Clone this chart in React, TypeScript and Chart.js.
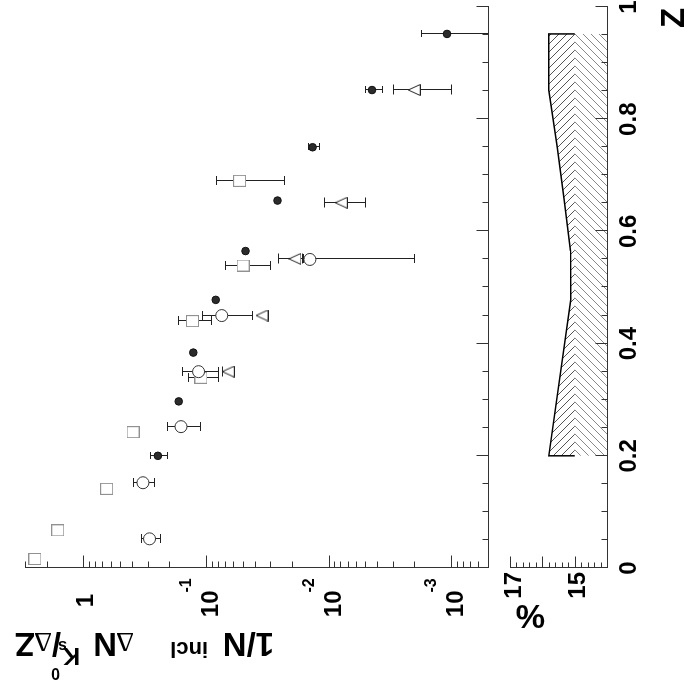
import React, { useEffect, useRef } from 'react';
import { Chart, registerables } from 'chart.js';

Chart.register(...registerables);

// ---------------- data ----------------
// filled circles
const dotZ = [0.2, 0.297, 0.384, 0.478, 0.565, 0.655, 0.75, 0.852, 0.952];
const dotVal = [0.247, 0.167, 0.127, 0.0833, 0.0476, 0.0261, 0.0135, 0.00442, 0.00108];
const dotLo = [0.207, 0.167, 0.127, 0.0833, 0.0476, 0.0261, 0.0119, 0.00369, 0.00038];
const dotHi = [0.289, 0.167, 0.127, 0.0833, 0.0476, 0.0261, 0.0146, 0.00509, 0.00177];
// open circles
const circZ = [0.052, 0.152, 0.252, 0.35, 0.45, 0.55];
const circVal = [0.289, 0.327, 0.16, 0.115, 0.0744, 0.0142];
const circLo = [0.239, 0.266, 0.113, 0.0793, 0.0421, 0.002];
const circHi = [0.337, 0.394, 0.209, 0.157, 0.107, 0.0161];
// open squares
const sqZ = [0.016, 0.067, 0.141, 0.242, 0.339, 0.44, 0.539, 0.69];
const sqVal = [2.49, 1.62, 0.647, 0.394, 0.11, 0.129, 0.0498, 0.0532];
const sqLo = [2.49, 1.62, 0.647, 0.394, 0.0793, 0.0904, 0.0299, 0.0229];
const sqHi = [2.49, 1.62, 0.647, 0.394, 0.141, 0.168, 0.07, 0.0823];
// open triangles
const triZ = [0.35, 0.45, 0.551, 0.651, 0.852];
const triVal = [0.0658, 0.0349, 0.0188, 0.00787, 0.002];
const triLo = [0.0603, 0.0349, 0.0164, 0.00509, 0.001];
const triHi = [0.0744, 0.0349, 0.0259, 0.0109, 0.003];
// systematic band (%)
const sysZ = [0.2, 0.478, 0.565, 0.655, 0.75, 0.852, 0.952];
const sysVal = [15.8, 15.12, 15.13, 15.32, 15.54, 15.8, 15.8];
const sysBase = 15;
const sysFloor = 14;

// axes and tick labels
const zMin = 0;
const zMax = 1;
const yMin = 5e-4;
const yMax = 3;
const ratioMin = 14;
const ratioMax = 17;
const zTickLabels = ['0', '0.2', '0.4', '0.6', '0.8', '1'];
const decadeValues = [1, 0.1, 0.01, 0.001];
const decadeBase = ['1', '10', '10', '10'];
const decadeExp = ['', '-1', '-2', '-3'];
const ratioLabels = [17, 15];

const FONT = '"Liberation Sans", Arial, Helvetica, sans-serif';
const AXIS = '#333';

const pts = (zs: number[], vs: number[]) => zs.map((z, i) => ({ x: z, y: vs[i] }));

function makeSquare(): HTMLCanvasElement {
  const c = document.createElement('canvas');
  c.width = 12; c.height = 13;
  const g = c.getContext('2d')!;
  g.fillStyle = '#fff';
  g.fillRect(0, 0, 12, 13);
  g.strokeStyle = '#222';
  g.lineWidth = 1;
  g.setLineDash([1, 1]);
  g.strokeRect(0.5, 0.5, 11, 12);
  return c;
}

function makeTriangle(): HTMLCanvasElement {
  const c = document.createElement('canvas');
  c.width = 12; c.height = 13;
  const g = c.getContext('2d')!;
  g.beginPath();
  g.moveTo(6, 0.5);
  g.lineTo(11.5, 12.5);
  g.lineTo(0.5, 12.5);
  g.closePath();
  g.fillStyle = '#fff';
  g.fill();
  g.strokeStyle = '#222';
  g.lineWidth = 1;
  g.stroke();
  return c;
}

function makeHatch(target: CanvasRenderingContext2D, dir: number, color: string): CanvasPattern {
  const s = 8;
  const c = document.createElement('canvas');
  c.width = s; c.height = s;
  const g = c.getContext('2d')!;
  g.strokeStyle = color;
  g.lineWidth = 1;
  g.beginPath();
  if (dir > 0) {
    g.moveTo(-1, -1); g.lineTo(s + 1, s + 1);
    g.moveTo(-1, s - 1); g.lineTo(1, s + 1);
    g.moveTo(s - 1, -1); g.lineTo(s + 1, 1);
  } else {
    g.moveTo(-1, s + 1); g.lineTo(s + 1, -1);
    g.moveTo(-1, 1); g.lineTo(1, -1);
    g.moveTo(s - 1, s + 1); g.lineTo(s + 1, s - 1);
  }
  g.stroke();
  return target.createPattern(c, 'repeat')!;
}

type ErrSeries = { z: number[]; lo: number[]; hi: number[]; cap: number };

function drawErrorBars(chart: any, series: ErrSeries[]) {
  const { ctx, chartArea: a } = chart;
  const xs = chart.scales.x;
  const ys = chart.scales.y;
  ctx.save();
  ctx.beginPath();
  ctx.rect(a.left, a.top, a.right - a.left, a.bottom - a.top);
  ctx.clip();
  ctx.strokeStyle = '#222';
  ctx.lineWidth = 1;
  for (const s of series) {
    s.z.forEach((z, i) => {
      const lo = s.lo[i];
      const hi = s.hi[i];
      if (!(hi > lo)) return;
      const px = Math.round(xs.getPixelForValue(z)) + 0.5;
      const p1 = Math.round(ys.getPixelForValue(hi)) + 0.5;
      const p2 = Math.round(ys.getPixelForValue(lo)) + 0.5;
      ctx.beginPath();
      ctx.moveTo(px, p1); ctx.lineTo(px, p2);
      ctx.moveTo(px - s.cap, p1); ctx.lineTo(px + s.cap, p1);
      ctx.moveTo(px - s.cap, p2); ctx.lineTo(px + s.cap, p2);
      ctx.stroke();
    });
  }
  ctx.restore();
}

function drawZTicks(chart: any) {
  const { ctx, chartArea: a } = chart;
  const xs = chart.scales.x;
  const base = Math.round(a.bottom) + 0.5;
  ctx.beginPath();
  for (let i = 0; i <= 20; i++) {
    const px = Math.round(xs.getPixelForValue(i * 0.05)) + 0.5;
    const len = i % 4 === 0 ? 12 : 6;
    ctx.moveTo(px, base); ctx.lineTo(px, base - len);
  }
  ctx.stroke();
}

const panelAPlugin = {
  id: 'panelA',
  beforeDatasetsDraw(chart: any) {
    drawErrorBars(chart, [
      { z: sqZ, lo: sqLo, hi: sqHi, cap: 4.5 },
      { z: circZ, lo: circLo, hi: circHi, cap: 4.5 },
      { z: triZ, lo: triLo, hi: triHi, cap: 5 },
      { z: dotZ, lo: dotLo, hi: dotHi, cap: 3.5 },
    ]);
  },
  afterDraw(chart: any) {
    const { ctx, chartArea: a } = chart;
    const ys = chart.scales.y;
    ctx.save();
    ctx.strokeStyle = AXIS;
    ctx.lineWidth = 1;
    drawZTicks(chart);
    // log ticks
    const left = Math.round(a.left) + 0.5;
    ctx.beginPath();
    for (let k = -4; k <= 0; k++) {
      for (let m = 1; m <= 9; m++) {
        const v = m * Math.pow(10, k);
        if (v < yMin || v > yMax) continue;
        const py = Math.round(ys.getPixelForValue(v)) + 0.5;
        const len = m === 1 ? 12 : 6;
        ctx.moveTo(left, py); ctx.lineTo(left + len, py);
      }
    }
    ctx.stroke();
    // decade labels with superscripts
    ctx.fillStyle = '#000';
    ctx.textBaseline = 'alphabetic';
    decadeValues.forEach((d, i) => {
      const py = ys.getPixelForValue(d);
      ctx.font = `bold 24px ${FONT}`;
      ctx.textAlign = 'right';
      if (!decadeExp[i]) {
        ctx.fillText(decadeBase[i], 96, py + 10);
      } else {
        ctx.fillText(decadeBase[i], 99.5, py + 12);
        ctx.font = `bold 16px ${FONT}`;
        ctx.textAlign = 'left';
        ctx.fillText(decadeExp[i], 97.5, py - 15);
      }
    });
    // axis title, rotated
    const pieces: { t: string; v: number; font: string; dy: number }[] = [
      { t: '1/N', v: 274, font: `bold 33px ${FONT}`, dy: 0 },
      { t: 'incl', v: 208, font: `bold 22px ${FONT}`, dy: -9 },
      { t: 'Δ', v: 134, font: `28px "Liberation Serif", serif`, dy: 0 },
      { t: 'N', v: 117, font: `bold 33px ${FONT}`, dy: 0 },
      { t: 'K', v: 80, font: `bold 24px ${FONT}`, dy: -15 },
      { t: 's', v: 67, font: `bold 16px ${FONT}`, dy: -8 },
      { t: '0', v: 60, font: `bold 16px ${FONT}`, dy: -35 },
      { t: '/', v: 61, font: `bold 33px ${FONT}`, dy: 0 },
      { t: 'Δ', v: 52, font: `28px "Liberation Serif", serif`, dy: 0 },
      { t: 'Z', v: 35, font: `bold 33px ${FONT}`, dy: 0 },
    ];
    ctx.textAlign = 'left';
    for (const p of pieces) {
      ctx.save();
      ctx.translate(57, p.v);
      ctx.rotate(-Math.PI / 2);
      ctx.font = p.font;
      ctx.fillText(p.t, 0, p.dy);
      ctx.restore();
    }
    ctx.restore();
  },
};

const panelBPlugin = {
  id: 'panelB',
  afterDraw(chart: any) {
    const { ctx, chartArea: a } = chart;
    const ys = chart.scales.y;
    ctx.save();
    ctx.strokeStyle = AXIS;
    ctx.lineWidth = 1;
    drawZTicks(chart);
    const left = Math.round(a.left) + 0.5;
    ctx.beginPath();
    for (let i = 0; i <= 15; i++) {
      const v = ratioMin + i * 0.2;
      const py = Math.round(ys.getPixelForValue(v)) + 0.5;
      const len = i % 5 === 0 ? 11 : 5;
      ctx.moveTo(left, py); ctx.lineTo(left + len, py);
    }
    ctx.stroke();
    ctx.fillStyle = '#000';
    // ratio tick labels
    ctx.font = `bold 24px ${FONT}`;
    ctx.textAlign = 'right';
    ctx.textBaseline = 'alphabetic';
    ratioLabels.forEach((v) => {
      const py = ys.getPixelForValue(v);
      ctx.fillText(String(v), 118, py + 10.5);
    });
    ctx.font = `bold 33px ${FONT}`;
    ctx.textAlign = 'left';
    // "%" title rotated
    ctx.save();
    ctx.translate(85, 50);
    ctx.rotate(-Math.PI / 2);
    ctx.fillText('%', 0, 0);
    ctx.restore();
    // "Z" title
    ctx.fillText('Z', 662, 189);
    ctx.restore();
  },
};

export default function App() {
  const refA = useRef<HTMLCanvasElement>(null);
  const refB = useRef<HTMLCanvasElement>(null);

  useEffect(() => {
    const cA = refA.current!;
    const cB = refB.current!;
    const sq = makeSquare();
    const tri = makeTriangle();
    const ctxB = cB.getContext('2d')!;
    const patDark = makeHatch(ctxB, 1, '#555');
    const patLight = makeHatch(ctxB, -1, '#8a8a8a');

    const border = { display: true, color: AXIS, width: 1 };

    const chartA = new Chart(cA, {
      type: 'line',
      data: {
        datasets: [
          { data: pts(dotZ, dotVal), showLine: false, pointStyle: 'circle', pointRadius: 3.8, pointBackgroundColor: '#2b2b2b', pointBorderColor: '#111', pointBorderWidth: 1 },
          { data: pts(triZ, triVal), showLine: false, pointStyle: tri as any, pointRadius: 6 },
          { data: pts(circZ, circVal), showLine: false, pointStyle: 'circle', pointRadius: 6, pointBackgroundColor: '#fff', pointBorderColor: '#333', pointBorderWidth: 1 },
          { data: pts(sqZ, sqVal), showLine: false, pointStyle: sq as any, pointRadius: 6 },
        ] as any,
      },
      options: {
        responsive: false,
        animation: false,
        devicePixelRatio: 1,
        events: [],
        layout: { padding: { top: 25, right: 7, bottom: 0, left: 0 } },
        plugins: { legend: { display: false }, tooltip: { enabled: false } },
        scales: {
          x: {
            type: 'linear', min: zMin, max: zMax,
            grid: { display: false }, border,
            ticks: { display: false },
            afterFit: (s: any) => { s.height = 4; },
          },
          y: {
            type: 'logarithmic', min: yMin, max: yMax,
            grid: { display: false }, border,
            ticks: { display: false },
            afterFit: (s: any) => { s.width = 122; },
          },
        },
      } as any,
      plugins: [panelAPlugin],
    });

    const outline = [
      { x: sysZ[0], y: sysBase },
      ...pts(sysZ, sysVal),
      { x: sysZ[sysZ.length - 1], y: sysBase },
    ];
    const floorBand = [
      { x: sysZ[0], y: sysBase },
      { x: sysZ[sysZ.length - 1], y: sysBase },
    ];

    const chartB = new Chart(cB, {
      type: 'line',
      data: {
        datasets: [
          { data: outline, borderColor: '#000', borderWidth: 1.5, pointRadius: 0, tension: 0, fill: { value: sysBase }, backgroundColor: patDark },
          { data: floorBand, borderColor: 'rgba(0,0,0,0)', borderWidth: 0, pointRadius: 0, tension: 0, fill: { value: sysFloor }, backgroundColor: patLight },
        ] as any,
      },
      options: {
        responsive: false,
        animation: false,
        devicePixelRatio: 1,
        events: [],
        layout: { padding: { top: 15, right: 7, bottom: 0, left: 0 } },
        plugins: { legend: { display: false }, tooltip: { enabled: false } },
        scales: {
          x: {
            type: 'linear', min: zMin, max: zMax,
            grid: { display: false }, border,
            ticks: {
              stepSize: 0.2, padding: 0, maxRotation: 0, autoSkip: false, color: '#000',
              font: { family: FONT, size: 24, weight: 'bold' },
              callback: (_v: any, i: number) => zTickLabels[i],
            },
            afterFit: (s: any) => { s.height = 80; },
          },
          y: {
            type: 'linear', min: ratioMin, max: ratioMax,
            grid: { display: false }, border,
            ticks: { display: false, stepSize: 1 },
            afterFit: (s: any) => { s.width = 122; },
          },
        },
      } as any,
      plugins: [panelBPlugin],
    });

    return () => {
      chartA.destroy();
      chartB.destroy();
    };
  }, []);

  return (
    <div style={{ position: 'fixed', left: 0, top: 0, width: 687, height: 690, overflow: 'hidden', background: '#fff' }}>
      <div
        style={{
          position: 'absolute', left: 0, top: 0, width: 690, height: 687,
          transformOrigin: '0 0', transform: 'translate(0px, 690px) rotate(-90deg)',
        }}
      >
        <canvas ref={refA} width={690} height={495} style={{ position: 'absolute', left: 0, top: 0, width: 690, height: 495 }} />
        <canvas ref={refB} width={690} height={192} style={{ position: 'absolute', left: 0, top: 495, width: 690, height: 192 }} />
      </div>
    </div>
  );
}
